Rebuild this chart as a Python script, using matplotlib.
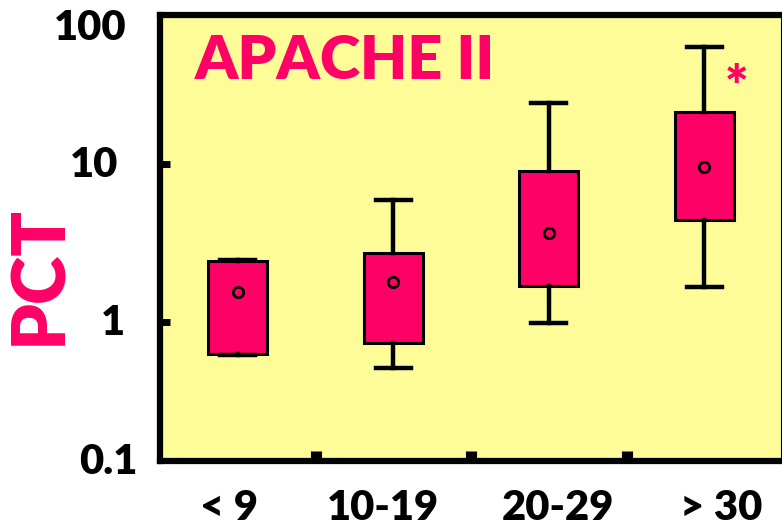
import matplotlib
matplotlib.use("Agg")
import matplotlib.pyplot as plt
import numpy as np

categories = ["< 9", "10-19", "20-29", "> 30"]
whislo = [0.62, 0.51, 0.985, 1.66]
q1 = [0.63, 0.74, 1.69, 4.42]
med = [1.55, 1.79, 3.66, 9.57]
q3 = [2.43, 2.73, 9.03, 21.3]
whishi = [2.47, 5.92, 24.3, 55.0]
ytick_vals = [1, 10]
ytick_labels = ["0.1", "1", "10", "100"]
star_value = 30.0

PINK = "#FF0066"
BG = "#FDFC98"
FONT = "Lato"
W, H = 782, 531

fig = plt.figure(figsize=(7.82, 5.31), dpi=100)
ax = fig.add_axes([160/W, (H-461)/H, 1 - 160/W, (461-15)/H])
ax.set_facecolor(BG)

stats = []
for i in range(len(categories)):
    stats.append(dict(label=categories[i], whislo=whislo[i], q1=q1[i], med=med[i],
                      q3=q3[i], whishi=whishi[i], fliers=[]))
pos = np.arange(len(categories))
ax.bxp(stats, positions=pos, widths=0.38, showmeans=False, patch_artist=True,
       showcaps=True,
       boxprops=dict(facecolor=PINK, edgecolor="black", linewidth=2.2),
       whiskerprops=dict(color="black", linewidth=3.2),
       capprops=dict(color="black", linewidth=3.2),
       medianprops=dict(linewidth=0),
       capwidths=0.225, zorder=3)
ax.plot(pos, med, linestyle="none", marker="o", markersize=7.5, markerfacecolor=PINK,
        markeredgecolor="black", markeredgewidth=2.0, zorder=5)

ax.set_yscale("log")
ymin, ymax = 10**((322-461)/158), 10**((322-15)/158)
ax.set_ylim(ymin, ymax)
ax.set_xlim(-0.5, 3.5)

ax.set_yticks(ytick_vals)
ax.set_yticklabels([])
ax.yaxis.set_minor_locator(matplotlib.ticker.NullLocator())
ax.tick_params(axis="y", which="major", direction="in", length=7, width=5, color="black")

# y labels placed at their reference positions (right edge px, center y px)
ylab_pos = [(138, 462), (125, 323), (118, 165), (127, 28)]
for lab, (xr, yc) in zip(ytick_labels, ylab_pos):
    fig.text(xr/W, 1 - yc/H, lab, ha="right", va="center", fontsize=30,
             fontweight="heavy", family=FONT)

# x labels placed at their reference positions (center x px)
ax.set_xticks(pos)
ax.set_xticklabels([])
ax.tick_params(axis="x", which="major", length=0)
xlab_x = [229, 383, 558, 721]
for lab, xc in zip(categories, xlab_x):
    fig.text(xc/W, 1 - 508/H, lab, ha="center", va="center", fontsize=30,
             fontweight="heavy", family=FONT)
ax.set_xticks([0.5, 1.5, 2.5], minor=True)
ax.tick_params(axis="x", which="minor", direction="in", length=7, width=8, color="black")

for s in ["left", "top", "bottom"]:
    ax.spines[s].set_linewidth(4.5)
ax.spines["right"].set_linewidth(1.5)

fig.text(195/W, 1 - 61/H, "APACHE II", ha="left", va="center",
         color=PINK, fontsize=44, fontweight="heavy", family=FONT)
ax.text(3.21, star_value, "*", color=PINK, fontsize=40, fontweight="heavy",
        family=FONT, ha="center", va="center")

fig.text(40/W, 1 - 275/H, "PCT", rotation=90, color=PINK, fontsize=53,
         fontweight="heavy", family=FONT, ha="center", va="center")

fig.savefig("out.png", dpi=100)
